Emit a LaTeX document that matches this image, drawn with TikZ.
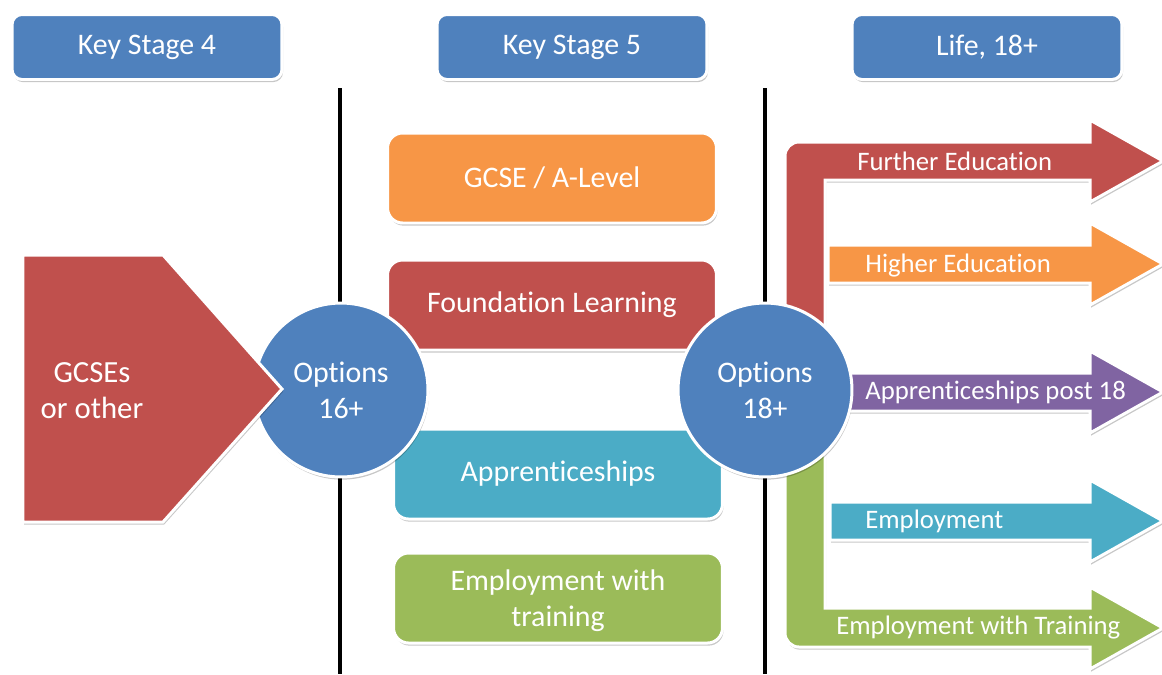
\documentclass[tikz,border=0pt]{standalone}
\usepackage{fontspec}
\setmainfont{Carlito}[Ligatures=NoCommon]
\usetikzlibrary{positioning, shadows, calc}

\definecolor{hdrblue}{HTML}{4F81BD}
\definecolor{boxorange}{HTML}{F79646}
\definecolor{boxred}{HTML}{C0504D}
\definecolor{boxaqua}{HTML}{4BACC6}
\definecolor{boxgreen}{HTML}{9BBB59}
\definecolor{boxpurple}{HTML}{8064A2}

\begin{document}
\begin{tikzpicture}[
    x=0.02cm, y=-0.02cm, % one unit = one pixel of the slide, y going down
    softshadow/.style={drop shadow={shadow xshift=0.6pt, shadow yshift=-1.5pt, fill=black, opacity=0.22}},
    heading/.style={rectangle, rounded corners=0.2cm, draw=white, line width=1.7pt, fill=hdrblue, text=white, minimum width=5.4cm, minimum height=1.3cm, font=\fontsize{17}{20.5}\selectfont, softshadow},
    choice/.style={rectangle, rounded corners=0.3cm, draw=white, line width=1.7pt, text=white, minimum width=6.58cm, minimum height=1.8cm, align=center, font=\fontsize{17}{20.5}\selectfont, softshadow},
    option/.style={circle, draw=white, line width=1.7pt, fill=hdrblue, text=white, minimum size=3.48cm, align=center, font=\fontsize{17}{20.5}\selectfont, softshadow},
    bigtext/.style={text=white, align=center, font=\fontsize{17}{20.5}\selectfont},
    route/.style={draw=white, line width=1.7pt, line join=miter, softshadow},
    routelabel/.style={text=white, anchor=west, inner sep=0pt, font=\fontsize{15.2}{18}\selectfont},
    divider/.style={line width=2pt, black}
]

\clip (0,0) rectangle (1162,674);

% Headings
\node[heading] (ks4) at (147,47) {Key Stage 4};
\node[heading] (ks5) at (572,47) {Key Stage 5};
\node[heading] (life) at (987,47) {Life, 18+};

% Column dividers
\coordinate (divA) at (340,88);
\coordinate (divB) at (765,88);
\draw[divider] (divA) -- (divA |- 0,674);
\draw[divider] (divB) -- (divB |- 0,674);

% --- Key Stage 5 choices ---
\node[choice, fill=boxorange] (alevel) at (552,178) {GCSE / A-Level};
\node[choice, fill=boxred] (found) at (552,305) {Foundation Learning};
\node[choice, fill=boxaqua] (appr) at (558,474) {Apprenticeships};
\node[choice, fill=boxgreen] (emptrain) at (558,598) {};
\node[bigtext] (emptraintext) at (558,601) {Employment with\\training};

\node[option] (opt16) at (341,390) {Options\\16+};

% GCSE block
\draw[route, fill=boxred] (23,255) -- (163,255) -- (282,389) -- (163,522) -- (23,522) -- cycle;
\node[bigtext, font=\fontsize{17.5}{20.5}\selectfont] (gcses) at (92,391) {GCSEs\\or other};

% --- Routes after 18 ---
% bent route up
\draw[route, fill=boxred] (785,340) -- (785,156) arc[start angle=180, end angle=90, radius=0.28cm]
    -- (1090,142) -- (1090,120) -- (1163,161) -- (1090,202) -- (1090,180) -- (825,180) -- (825,340) -- cycle;
% straight routes: centre line / colour / start
\foreach \y/\c/\s in {264/boxorange/828, 392/boxpurple/800, 521/boxaqua/830}
    \draw[route, fill=\c] (\s,\y-19) -- (1090,\y-19) -- (1090,\y-41) -- (1163,\y) -- (1090,\y+41) -- (1090,\y+19) -- (\s,\y+19) -- cycle;
% bent route down
\draw[route, fill=boxgreen] (825,440) -- (825,608) -- (1090,608) -- (1090,587) -- (1163,628) -- (1090,669) -- (1090,647)
    -- (799,647) arc[start angle=270, end angle=180, radius=0.28cm] -- (785,440) -- cycle;

\node[option] (opt18) at (765,390) {Options\\18+};

\node[routelabel] (further) at (857,161) {Further Education};
\node[routelabel] (higher) at (865,266) {Higher Education};
\node[routelabel] (apppost) at (865,392) {Apprenticeships post 18};
\node[routelabel] (employ) at (865,521) {Employment};
\node[routelabel] (empwith) at (836,628) {Employment with Training};

\end{tikzpicture}
\end{document}
